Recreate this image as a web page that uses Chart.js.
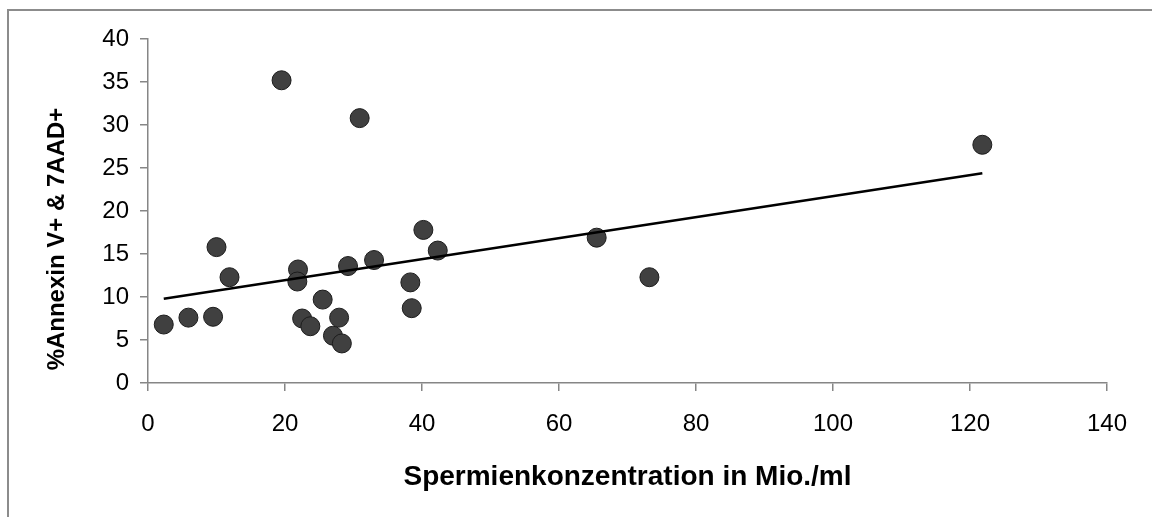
<!DOCTYPE html>
<html>
<head>
<meta charset="utf-8">
<script src="https://cdn.jsdelivr.net/npm/chart.js@4/dist/chart.umd.min.js"></script>
<style>
  html, body { margin: 0; padding: 0; background: #fff; }
  #wrap { width: 1152px; height: 517px; }
</style>
</head>
<body>
<div id="wrap"><canvas id="chart" width="1152" height="517"></canvas></div>
<script>
// sperm concentration (Mio./ml) vs. % Annexin V+ & 7AAD+
const concentration = [2.3, 5.9, 9.5, 10.0, 11.9, 19.5, 21.9, 21.8, 22.5, 23.7, 25.5, 27.0, 27.9, 28.3, 29.2, 30.9, 33.0, 38.3, 38.5, 40.2, 42.3, 65.5, 73.2, 121.8]
const annexinPct = [6.8, 7.6, 7.7, 15.8, 12.3, 35.2, 13.2, 11.8, 7.5, 6.6, 9.7, 5.5, 7.6, 4.6, 13.6, 30.8, 14.3, 11.7, 8.7, 17.8, 15.4, 16.9, 12.3, 27.7]

// linear trend line, start and end
const trendX = [2.3, 121.8]
const trendY = [9.8, 24.4]

const xTicks = [0, 20, 40, 60, 80, 100, 120, 140]
const yTicks = [0, 5, 10, 15, 20, 25, 30, 35, 40]

const yTitle = '%Annexin V+ & 7AAD+'
const xTitle = 'Spermienkonzentration in Mio./ml'

const axisGray = '#868686'
const fontName = "'Liberation Sans', Arial, sans-serif"

// thin gray frame (only top and left edge are inside the canvas)
const framePlugin = {
  id: 'frame',
  beforeDraw(chart) {
    const ctx = chart.ctx
    ctx.save()
    ctx.strokeStyle = '#8c8c8c'
    ctx.lineWidth = 2
    ctx.beginPath()
    ctx.moveTo(8, 517)
    ctx.lineTo(8, 10)
    ctx.lineTo(1152, 10)
    ctx.stroke()
    ctx.restore()
  }
}

// y title sits a bit below the axis middle, so it is drawn by hand
const yTitlePlugin = {
  id: 'yTitle',
  afterDraw(chart) {
    const ctx = chart.ctx
    ctx.save()
    ctx.translate(57, 239)
    ctx.rotate(-Math.PI / 2)
    ctx.font = `bold 24px ${fontName}`
    ctx.fillStyle = '#000'
    ctx.textAlign = 'center'
    ctx.textBaseline = 'middle'
    ctx.fillText(yTitle, 0, 0)
    ctx.restore()
  }
}

const points = concentration.map((c, i) => ({ x: c, y: annexinPct[i] }))
const trend = trendX.map((t, i) => ({ x: t, y: trendY[i] }))

new Chart(document.getElementById('chart'), {
  type: 'scatter',
  data: {
    datasets: [
      {
        type: 'line',
        label: 'Trend',
        data: trend,
        borderColor: '#000',
        borderWidth: 2.5,
        pointRadius: 0,
        fill: false,
        order: 0
      },
      {
        label: 'Proben',
        data: points,
        backgroundColor: '#404040',
        borderColor: '#1c1c1c',
        borderWidth: 1,
        pointRadius: 9.5,
        pointHoverRadius: 9.5,
        order: 1
      }
    ]
  },
  options: {
    responsive: false,
    animation: false,
    layout: { padding: { left: 30, top: 39, right: 45, bottom: 0 } },
    plugins: {
      legend: { display: false },
      tooltip: { enabled: false }
    },
    scales: {
      x: {
        type: 'linear',
        min: 0,
        max: 140,
        afterFit: (s) => { s.height = 134 },
        afterBuildTicks: (s) => { s.ticks = xTicks.map(v => ({ value: v })) },
        grid: { drawOnChartArea: false, tickLength: 8, color: axisGray, lineWidth: 1.5 },
        border: { color: axisGray, width: 1.5 },
        ticks: { color: '#000', padding: 19, font: { family: fontName, size: 24 } },
        title: {
          display: true,
          text: xTitle,
          color: '#000',
          padding: { top: 0, bottom: 23 },
          font: { family: fontName, size: 28, weight: 'bold' }
        }
      },
      y: {
        type: 'linear',
        min: 0,
        max: 40,
        afterFit: (s) => { s.width = 118 },
        afterBuildTicks: (s) => { s.ticks = yTicks.map(v => ({ value: v })) },
        grid: { drawOnChartArea: false, tickLength: 8, color: axisGray, lineWidth: 1.5 },
        border: { color: axisGray, width: 1.5 },
        ticks: { color: '#000', padding: 11, font: { family: fontName, size: 24 } }
      }
    }
  },
  plugins: [framePlugin, yTitlePlugin]
})
</script>
</body>
</html>
